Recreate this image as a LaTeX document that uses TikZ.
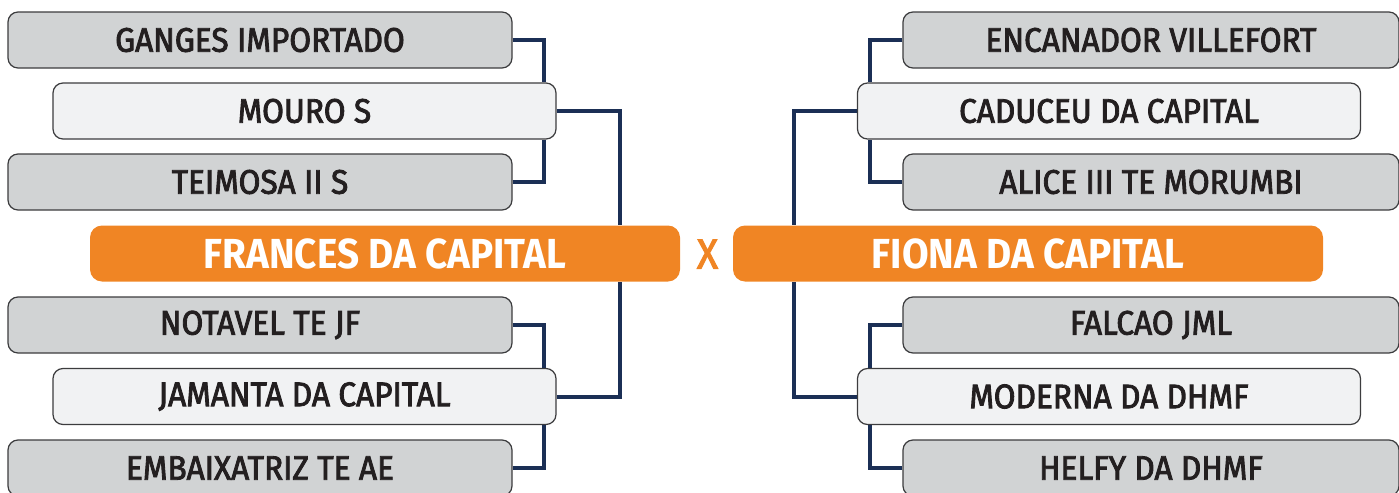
\documentclass[tikz,border=0pt]{standalone}
\usepackage{fontspec}
\setmainfont{Fira Sans}[FakeStretch=0.93, FakeBold=2.5]
\newfontfamily\finalfont{Fira Sans}[FakeStretch=0.92]
\usetikzlibrary{positioning}
\definecolor{boxgrey}{HTML}{D1D3D4}
\definecolor{boxlight}{HTML}{F1F2F3}
\definecolor{edgegrey}{HTML}{3C3C3E}
\definecolor{linknavy}{HTML}{1B2F55}
\definecolor{finalorange}{HTML}{F08524}
\definecolor{inkblack}{HTML}{231F20}
\tikzset{
  dog/.style={draw=edgegrey, line width=0.6pt, rounded corners=5pt,
    minimum height=28pt, inner sep=0pt, text=inkblack,
    font=\fontsize{17}{19}\selectfont},
  dog grey/.style={dog, fill=boxgrey, minimum width=252pt},
  dog light/.style={dog, fill=boxlight, minimum width=251.5pt},
  finalist/.style={fill=finalorange, rounded corners=6pt, minimum width=295pt,
    minimum height=28pt, inner sep=0pt, text=white,
    font=\finalfont\fontsize{21}{24}\selectfont\bfseries},
  link/.style={draw=linknavy, line width=2pt}
}
\begin{document}
\begin{tikzpicture}[x=0.5pt,y=-0.5pt]
  \useasboundingbox (0,0) rectangle (1399,493);
  \node[dog grey]  (ganges)   at (260,40)    {GANGES IMPORTADO};
  \node[dog light] (mouro)    at (304.5,111) {MOURO S};
  \node[dog grey]  (teimosa)  at (260,182)   {TEIMOSA II S};
  \node[finalist]  (frances)  at (385,253.5) {FRANCES DA CAPITAL};
  \node[dog grey]  (notavel)  at (260,325)   {NOTAVEL TE JF};
  \node[dog light] (jamanta)  at (304.5,396.5) {JAMANTA DA CAPITAL};
  \node[dog grey]  (embaix)   at (260,468)   {EMBAIXATRIZ TE AE};
  \node[dog grey, minimum width=248pt] (encanador) at (1151,40)  {ENCANADOR VILLEFORT};
  \node[dog light] (caduceu)  at (1109,111)  {CADUCEU DA CAPITAL};
  \node[dog grey, minimum width=248pt] (alice)     at (1151,182) {ALICE III TE MORUMBI};
  \node[finalist]  (fiona)    at (1028,253.5) {FIONA DA CAPITAL};
  \node[dog grey, minimum width=248pt] (falcao)    at (1151,325) {FALCAO JML};
  \node[dog light] (moderna)  at (1109,396.5) {MODERNA DA DHMF};
  \node[dog grey, minimum width=248pt] (helfy)     at (1151,468) {HELFY DA DHMF};
  \node[text=finalorange, font=\fontsize{21}{24}\selectfont, inner sep=0pt] (versus) at (707.5,254) {X};
  \draw[link] (ganges.east) -- ++(31,0) coordinate (g1) -- (g1 |- mouro.north);
  \draw[link] (teimosa.east) -- ++(31,0) coordinate (t1) -- (t1 |- mouro.south);
  \draw[link] (mouro.east) -- ++(63,0) coordinate (m1) -- (m1 |- frances.north);
  \draw[link] (notavel.east) -- ++(31,0) coordinate (n1) -- (n1 |- jamanta.north);
  \draw[link] (embaix.east) -- ++(31,0) coordinate (e1) -- (e1 |- jamanta.south);
  \draw[link] (jamanta.east) -- ++(63,0) coordinate (j1) -- (j1 |- frances.south);
  \draw[link] (encanador.west) -- ++(-32,0) coordinate (v1) -- (v1 |- caduceu.north);
  \draw[link] (alice.west) -- ++(-32,0) coordinate (a1) -- (a1 |- caduceu.south);
  \draw[link] (caduceu.west) -- ++(-63,0) coordinate (c1) -- (c1 |- fiona.north);
  \draw[link] (falcao.west) -- ++(-32,0) coordinate (f1) -- (f1 |- moderna.north);
  \draw[link] (helfy.west) -- ++(-32,0) coordinate (h1) -- (h1 |- moderna.south);
  \draw[link] (moderna.west) -- ++(-63,0) coordinate (d1) -- (d1 |- fiona.south);
\end{tikzpicture}
\end{document}
